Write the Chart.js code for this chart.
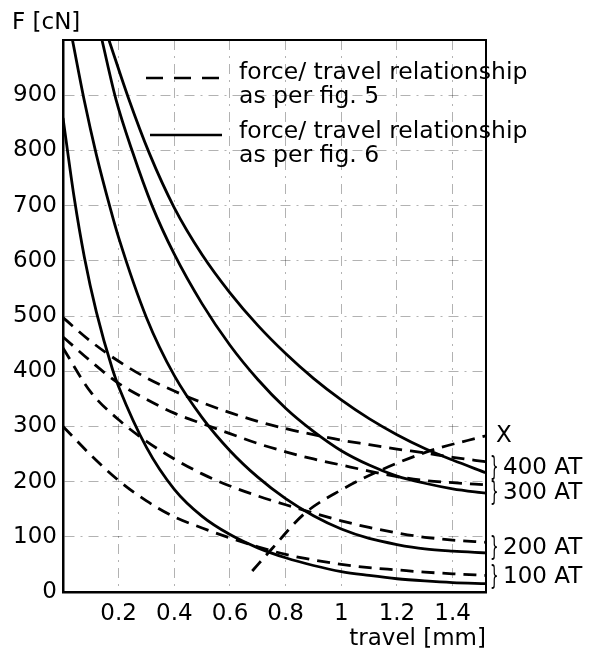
<!DOCTYPE html>
<html lang="en">
<head>
    <meta charset="UTF-8">
    <title>force / travel</title>
    <script src="https://cdn.jsdelivr.net/npm/chart.js"></script>
    <style>
        html, body { margin: 0; padding: 0; background: #fff; }
        canvas { display: block; }
    </style>
</head>
<body>
    <canvas id="chart" width="596" height="651"></canvas>

    <script>
        // axis ticks
        const xTicks = [0.2, 0.4, 0.6, 0.8, 1, 1.2, 1.4];
        const yTicks = [0, 100, 200, 300, 400, 500, 600, 700, 800, 900];
        const groups = ["100 AT", "200 AT", "300 AT", "400 AT"];

        // force/ travel relationship as per fig. 6 (solid)
        const solid100X = [0, 0.04, 0.077, 0.12, 0.178, 0.2, 0.3, 0.4, 0.5, 0.6, 0.7, 0.8, 0.9, 1.0, 1.1, 1.2, 1.3, 1.4, 1.52];
        const solid100Y = [859, 715, 606, 507, 403, 372, 262, 186, 137, 104, 80, 62, 48, 37, 30, 24, 20, 17, 15];
        const solid200X = [0.034, 0.077, 0.12, 0.17, 0.2, 0.3, 0.4, 0.5, 0.6, 0.7, 0.8, 0.9, 1.0, 1.1, 1.2, 1.3, 1.4, 1.52];
        const solid200Y = [1000, 889, 792, 695, 642, 497, 392, 316, 256, 208, 169, 138, 114, 97, 86, 78, 74, 71];
        const solid300X = [0.14, 0.19, 0.25, 0.32, 0.4, 0.5, 0.6, 0.7, 0.8, 0.9, 1.0, 1.1, 1.2, 1.3, 1.4, 1.52];
        const solid300Y = [1000, 893, 797, 700, 612, 522, 447, 385, 333, 291, 256, 230, 210, 197, 187, 179];
        const solid400X = [0.165, 0.235, 0.31, 0.4, 0.5, 0.6, 0.7, 0.8, 0.9, 1.0, 1.1, 1.2, 1.3, 1.4, 1.52];
        const solid400Y = [1000, 895, 795, 696, 611, 542, 483, 432, 387, 348, 314, 285, 260, 239, 216];

        // force/ travel relationship as per fig. 5 (dashed)
        const dashX = [0, 0.1, 0.2, 0.3, 0.4, 0.5, 0.6, 0.7, 0.8, 0.9, 1.0, 1.1, 1.2, 1.3, 1.4, 1.52];
        const dash100Y = [300, 248, 202, 165, 136, 116, 98, 82, 68, 58, 50, 44, 40, 36, 33, 30];
        const dash200Y = [442, 362, 312, 273, 241, 214, 192, 174, 158, 143, 129, 117, 107, 99, 94, 90];
        const dash300Y = [462, 418, 378, 349, 324, 305, 287, 269, 254, 241, 230, 219, 209, 202, 198, 194];
        const dash400Y = [497, 454, 418, 388, 364, 343, 325, 309, 296, 285, 275, 267, 259, 252, 244, 236];

        // locus of intersections "X"
        const locusX = [0.68, 0.75, 0.87, 1.0, 1.13, 1.32, 1.52];
        const locusY = [38, 78, 143, 185, 218, 256, 283];

        const pts = (xs, ys) => xs.map((x, i) => ({ x: x, y: ys[i] }));
        const DASH = [13, 8];

        function curve(xs, ys, dashed) {
            return {
                data: pts(xs, ys),
                borderColor: "#000",
                borderWidth: 2.8,
                borderDash: dashed ? DASH : [],
                pointRadius: 0,
                fill: false,
                showLine: true,
                cubicInterpolationMode: "monotone"
            };
        }

        const annotate = {
            id: "annotate",
            afterDraw(chart) {
                const { ctx, chartArea: a } = chart;
                ctx.save();
                ctx.strokeStyle = "#000";
                ctx.lineWidth = 2;
                ctx.strokeRect(a.left, a.top, a.right - a.left, a.bottom - a.top);

                ctx.fillStyle = "#000";
                ctx.font = "23px 'DejaVu Sans'";
                ctx.textBaseline = "alphabetic";
                ctx.textAlign = "left";
                ctx.fillText("F [cN]", 12, 29);
                ctx.textAlign = "right";
                ctx.fillText("travel [mm]", a.right, 645);

                // legend
                ctx.font = "23.5px 'DejaVu Sans'";
                ctx.textAlign = "left";
                ctx.textBaseline = "middle";
                ctx.fillText("force/ travel relationship", 239, 73);
                ctx.fillText("as per fig. 5", 239, 97);
                ctx.fillText("force/ travel relationship", 239, 132);
                ctx.fillText("as per fig. 6", 239, 156);
                ctx.lineWidth = 2.5;
                ctx.setLineDash([17, 11]);
                ctx.beginPath(); ctx.moveTo(146, 78); ctx.lineTo(222, 78); ctx.stroke();
                ctx.setLineDash([]);
                ctx.beginPath(); ctx.moveTo(150, 135); ctx.lineTo(222, 135); ctx.stroke();

                // right hand labels
                ctx.font = "23px 'DejaVu Sans'";
                ctx.fillText("X", 496, 436);
                const ys = [577, 548, 493, 468];
                groups.forEach((g, i) => {
                    ctx.fillText(g, 503, ys[i]);
                    ctx.save();
                    ctx.translate(490, ys[i]);
                    ctx.scale(0.5, 1);
                    ctx.font = "27px 'DejaVu Sans'";
                    ctx.fillText("}", 0, 0);
                    ctx.restore();
                });
                ctx.restore();
            }
        };

        const gridColor = "rgba(0,0,0,0.3)";

        new Chart(document.getElementById("chart").getContext("2d"), {
            type: "scatter",
            data: {
                datasets: [
                    curve(solid100X, solid100Y, false),
                    curve(solid200X, solid200Y, false),
                    curve(solid300X, solid300Y, false),
                    curve(solid400X, solid400Y, false),
                    curve(dashX, dash100Y, true),
                    curve(dashX, dash200Y, true),
                    curve(dashX, dash300Y, true),
                    curve(dashX, dash400Y, true),
                    curve(locusX, locusY, true)
                ]
            },
            options: {
                responsive: false,
                animation: false,
                devicePixelRatio: 1,
                layout: { padding: { top: 40, right: 110, left: 0, bottom: 0 } },
                scales: {
                    x: {
                        type: "linear",
                        min: 0,
                        max: 1.52,
                        afterBuildTicks: s => { s.ticks = xTicks.map(v => ({ value: v })); },
                        afterFit: s => { s.height = 59; },
                        ticks: {
                            color: "#000",
                            padding: 8,
                            maxRotation: 0,
                            autoSkip: false,
                            font: { family: "'DejaVu Sans'", size: 23 },
                            callback: v => String(v)
                        },
                        grid: { color: gridColor, lineWidth: 1, drawTicks: false },
                        border: { display: true, color: "#000", width: 2.5, dash: [10, 6, 2, 6] }
                    },
                    y: {
                        min: 0,
                        max: 1000,
                        afterBuildTicks: s => { s.ticks = yTicks.map(v => ({ value: v })); },
                        afterFit: s => { s.width = 63; },
                        ticks: {
                            color: "#000",
                            padding: 6,
                            autoSkip: false,
                            font: { family: "'DejaVu Sans'", size: 23 },
                            callback: v => String(v)
                        },
                        grid: { color: gridColor, lineWidth: 1, drawTicks: false },
                        border: { display: true, color: "#000", width: 2.5, dash: [10, 6, 2, 6] }
                    }
                },
                plugins: {
                    legend: { display: false },
                    tooltip: { enabled: false }
                }
            },
            plugins: [annotate]
        });
    </script>
</body>
</html>
